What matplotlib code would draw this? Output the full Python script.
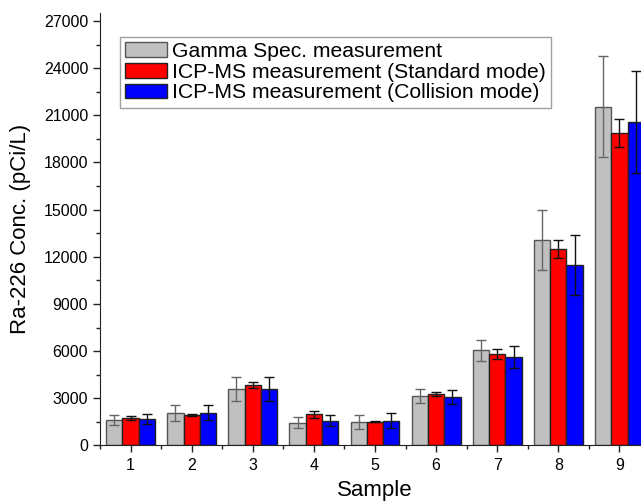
import matplotlib.pyplot as plt
import numpy as np
from matplotlib.ticker import MultipleLocator

plt.rcParams['font.family'] = ['Liberation Sans', 'DejaVu Sans']

samples = [1, 2, 3, 4, 5, 6, 7, 8, 9]

# Gamma spectrometry
gamma = [1620, 2050, 3590, 1450, 1500, 3170, 6050, 13050, 21550]
gamma_err = [330, 520, 780, 340, 450, 440, 690, 1900, 3220]

# ICP-MS standard mode
icp_std = [1730, 1940, 3850, 1980, 1515, 3275, 5840, 12500, 19890]
icp_std_err = [120, 60, 210, 230, 50, 130, 320, 600, 890]

# ICP-MS collision mode
icp_col = [1685, 2090, 3590, 1580, 1580, 3105, 5630, 11480, 20570]
icp_col_err = [320, 500, 780, 340, 470, 450, 680, 1890, 3230]

labels = ["Gamma Spec. measurement",
          "ICP-MS measurement (Standard mode)",
          "ICP-MS measurement (Collision mode)"]

fig = plt.figure(figsize=(6.41, 5.01), dpi=100)
ax = fig.add_axes([0.156, 0.1108, 0.858, 0.863])

x = np.array(samples)
w = 0.267

ax.bar(x - w, gamma, w, color="#c0c0c0", edgecolor="#555555", linewidth=1.0,
       label=labels[0], zorder=2)
ax.bar(x, icp_std, w, color="#ff0000", edgecolor="#222222", linewidth=1.0,
       label=labels[1], zorder=2)
ax.bar(x + w, icp_col, w, color="#0000ff", edgecolor="#222222", linewidth=1.0,
       label=labels[2], zorder=2)

ax.errorbar(x - w, gamma, yerr=gamma_err, fmt="none", ecolor="#666666",
            elinewidth=1, capsize=3.5, capthick=1, zorder=3)
ax.errorbar(x, icp_std, yerr=icp_std_err, fmt="none", ecolor="#111111",
            elinewidth=1, capsize=3.5, capthick=1, zorder=3)
ax.errorbar(x + w, icp_col, yerr=icp_col_err, fmt="none", ecolor="#111111",
            elinewidth=1, capsize=3.5, capthick=1, zorder=3)

ax.set_xlim(0.5, 9.5)
ax.set_ylim(0, 27500)
ax.set_xticks(samples)
ax.xaxis.set_minor_locator(MultipleLocator(1, offset=0.5))
ax.yaxis.set_major_locator(MultipleLocator(3000))
ax.yaxis.set_minor_locator(MultipleLocator(1500))

ax.spines["top"].set_visible(False)
ax.spines["right"].set_visible(False)
ax.spines["left"].set_color("#222222")
ax.spines["bottom"].set_color("#222222")

ax.tick_params(axis="both", which="major", direction="out", length=5,
               width=1, labelsize=11.5, color="#222222")
ax.tick_params(axis="both", which="minor", direction="out", length=3,
               width=1, color="#222222")
ax.tick_params(axis="x", which="major", pad=4)

ax.set_xlabel("Sample", fontsize=16, labelpad=5)
ax.set_ylabel("Ra-226 Conc. (pCi/L)", fontsize=16, labelpad=9)

leg = ax.legend(loc="upper left", bbox_to_anchor=(0.036, 0.9456), fontsize=15.2,
                frameon=True, fancybox=False, edgecolor="#888888",
                handlelength=2.0, handleheight=0.7, handletextpad=0.2,
                labelspacing=0.08, borderpad=0.25, borderaxespad=0)
leg.get_frame().set_linewidth(1.0)

fig.savefig("out.png", dpi=100)
